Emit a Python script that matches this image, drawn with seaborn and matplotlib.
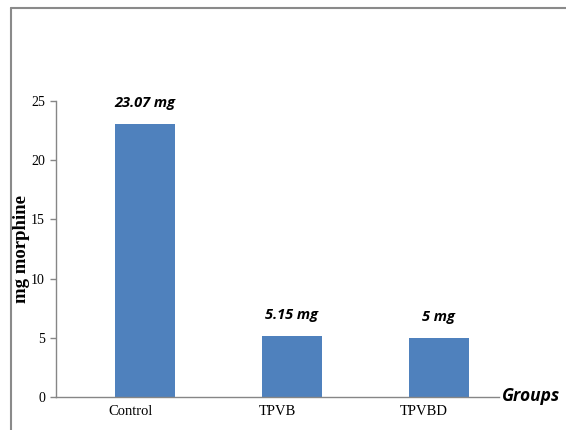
import matplotlib
matplotlib.use("Agg")
import matplotlib.pyplot as plt
from matplotlib.lines import Line2D
import seaborn as sns
import pandas as pd

groups = ["Control", "TPVB", "TPVBD"]
morphine_mg = [23.07, 5.15, 5.0]
value_labels = ["23.07 mg", "5.15 mg", "5 mg"]
y_ticks = [0, 5, 10, 15, 20, 25]

sns.set_theme(style="white")
plt.rcParams["font.family"] = ["Liberation Serif", "DejaVu Serif"]
plt.rcParams["text.color"] = "black"
plt.rcParams["axes.labelcolor"] = "black"
plt.rcParams["xtick.color"] = "black"
plt.rcParams["ytick.color"] = "black"

df = pd.DataFrame({"group": groups, "mg": morphine_mg})

fig = plt.figure(figsize=(5.66, 4.30), dpi=100)
ax = fig.add_axes([56 / 566, 33 / 430, 443 / 566, 296 / 430])

sns.barplot(data=df, x="group", y="mg", color="#4F81BD", saturation=1,
            width=0.41, linewidth=0, ax=ax)

ax.set_xlim(-0.605, 2.41)
ax.set_ylim(0, 25)
ax.set_yticks(y_ticks)
ax.set_yticklabels([str(t) for t in y_ticks], fontsize=10)

# category labels centred between boundary ticks
ax.set_xticks([-0.1, 0.9, 1.9])
ax.set_xticklabels(groups, fontsize=10.5)
ax.set_xticks([0.4, 1.4], minor=True)
ax.tick_params(axis="x", which="major", length=0, pad=6)
ax.tick_params(axis="x", which="minor", length=4, direction="inout",
               color="#868686", width=1)
ax.tick_params(axis="y", length=4, direction="out", color="#868686",
               width=1, left=True, pad=4)

for side in ["top", "right"]:
    ax.spines[side].set_visible(False)
for side in ["left", "bottom"]:
    ax.spines[side].set_color("#868686")
    ax.spines[side].set_linewidth(1)

ax.set_xlabel("")
ax.set_ylabel("mg morphine", fontsize=13.5, fontweight="bold", labelpad=0.5)

for i, (v, lab) in enumerate(zip(morphine_mg, value_labels)):
    ax.annotate(lab, (i, v), xytext=(0, 10), textcoords="offset points",
                ha="center", va="bottom", fontsize=10.5, fontweight="bold",
                fontstyle="italic", family=["Open Sans", "DejaVu Sans"])

fig.text(531 / 566, 1 - 396 / 430, "Groups", ha="center", va="center",
         fontsize=12.5, fontweight="bold", fontstyle="italic",
         family=["Open Sans", "DejaVu Sans"])

# outer frame lines along top and left edges
fig.add_artist(Line2D([11 / 566, 1], [1 - 7.5 / 430, 1 - 7.5 / 430],
                      transform=fig.transFigure, color="#8a8a8a", lw=1.5))
fig.add_artist(Line2D([11 / 566, 11 / 566], [0, 1 - 7.5 / 430],
                      transform=fig.transFigure, color="#8a8a8a", lw=1.5))

fig.savefig("out.png", dpi=100)
